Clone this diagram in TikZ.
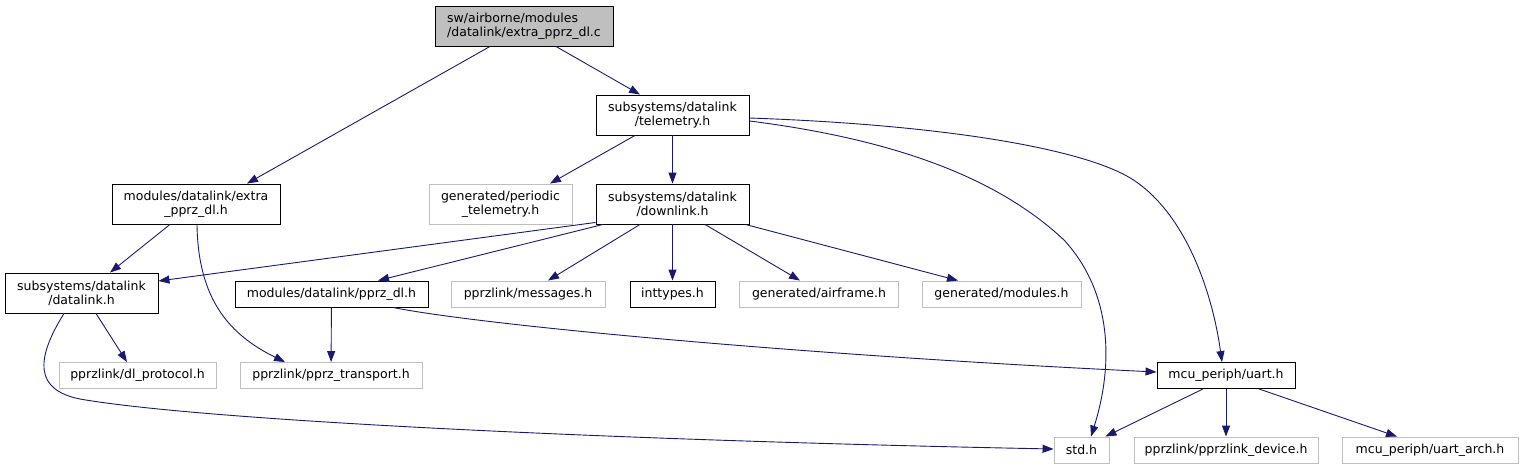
\documentclass[tikz,border=0pt]{standalone}
\usepackage{fontspec}
\setmainfont{DejaVu Sans}
\usetikzlibrary{arrows.meta}
\definecolor{edgeblue}{HTML}{191970}
\definecolor{lightgrey}{HTML}{BFBFBF}

\begin{document}
\begin{tikzpicture}[x=1pt, y=-1pt, >={Triangle[length=11pt,width=8pt]},
  every node/.style={font=\fontsize{12.5}{14}\selectfont, inner sep=0pt, align=center},
  hdr/.style={draw=black, line width=0.9pt, fill=white, minimum height=#1},
  hdr/.default=26,
  ext/.style={draw=lightgrey, line width=0.9pt, fill=white, minimum height=26},
  rootfile/.style={draw=black, line width=0.9pt, fill=lightgrey, minimum height=40, align=left},
  dep/.style={->, draw=edgeblue, line width=0.9pt}]
\useasboundingbox (0,0) rectangle (1523,469);
% nodes, row by row
\node[rootfile, minimum width=178] (root) at (524,26) {sw/airborne/modules\\/datalink/extra\_pprz\_dl.c};
\node[hdr=40, minimum width=153] (telem) at (672.5,115) {subsystems/datalink\\/telemetry.h};
\node[hdr=40, minimum width=168] (extra) at (196,204) {modules/datalink/extra\\\_pprz\_dl.h};
\node[ext, minimum height=40, minimum width=143] (periodic) at (500.5,204) {generated/periodic\\\_telemetry.h};
\node[hdr=40, minimum width=153] (downlink) at (672.5,204) {subsystems/datalink\\/downlink.h};
\node[hdr=40, minimum width=153] (datalink) at (81.5,293) {subsystems/datalink\\/datalink.h};
\node[hdr, minimum width=193] (pprzdl) at (331.5,294) {modules/datalink/pprz\_dl.h};
\node[ext, minimum width=154] (messages) at (528,294) {pprzlink/messages.h};
\node[hdr, minimum width=85] (inttypes) at (672.5,294) {inttypes.h};
\node[ext, minimum width=159] (airframe) at (819,294) {generated/airframe.h};
\node[ext, minimum width=159] (modules) at (1001.5,294) {generated/modules.h};
\node[ext, minimum width=157] (dlproto) at (137.5,375.5) {pprzlink/dl\_protocol.h};
\node[ext, minimum width=182] (transport) at (331,375.5) {pprzlink/pprz\_transport.h};
\node[hdr, minimum width=138] (uart) at (1226,375.5) {mcu\_periph/uart.h};
\node[ext, minimum width=55] (stdh) at (1081.5,450) {std.h};
\node[ext, minimum width=184] (device) at (1226,450) {pprzlink/pprzlink\_device.h};
\node[ext, minimum width=176] (uartarch) at (1430,450) {mcu\_periph/uart\_arch.h};
% includes
\draw[dep] ([xshift=-34pt]root.south) -- ([xshift=51pt]extra.north);
\draw[dep] ([xshift=32pt]root.south) -- ([xshift=-32.5pt]telem.north);
\draw[dep] ([xshift=-37.5pt]telem.south) -- ([xshift=49.5pt]periodic.north);
\draw[dep] (telem) -- (downlink);
\draw[dep] ([yshift=-6pt]telem.east) .. controls (900,140) and (1000,180) .. (1064,240)
  .. controls (1110,290) and (1115,360) .. ([xshift=9.5pt]stdh.north);
\draw[dep] ([yshift=-3pt]telem.east) .. controls (950,125) and (1090,150) .. (1135,181)
  .. controls (1185,215) and (1212,290) .. ([xshift=-4pt]uart.north);
\draw[dep] ([xshift=-26pt]extra.south) -- ([xshift=28.5pt]datalink.north);
\draw[dep] ([xshift=1pt]extra.south) .. controls (198,300) and (230,335) .. ([xshift=-46pt]transport.north);
\draw[dep] ([yshift=2pt]downlink.south west) -- ([yshift=12pt]datalink.east);
\draw[dep] ([xshift=-69.5pt]downlink.south) -- ([xshift=46.5pt]pprzdl.north);
\draw[dep] ([xshift=-32.5pt]downlink.south) -- ([xshift=20pt]messages.north);
\draw[dep] (downlink) -- (inttypes);
\draw[dep] ([xshift=32.5pt]downlink.south) -- ([xshift=-19pt]airframe.north);
\draw[dep] ([xshift=-4pt]downlink.south east) -- ([xshift=-43.5pt]modules.north);
\draw[dep] ([xshift=14.5pt]datalink.south) -- ([xshift=-10.5pt]dlproto.north);
\draw[dep] ([xshift=-17.5pt]datalink.south) .. controls (35,360) and (35,390) .. (80,399)
  .. controls (200,420) and (600,440) .. ([yshift=1pt]stdh.west);
\draw[dep] (pprzdl) -- (transport);
\draw[dep] ([xshift=61.5pt]pprzdl.south) .. controls (480,325) and (800,355) .. ([yshift=3.5pt]uart.west);
\draw[dep] ([xshift=-23pt]uart.south) -- ([xshift=-4pt]stdh.north east);
\draw[dep] (uart) -- (device);
\draw[dep] ([xshift=33pt]uart.south) -- ([xshift=-33pt]uartarch.north);
\end{tikzpicture}
\end{document}
